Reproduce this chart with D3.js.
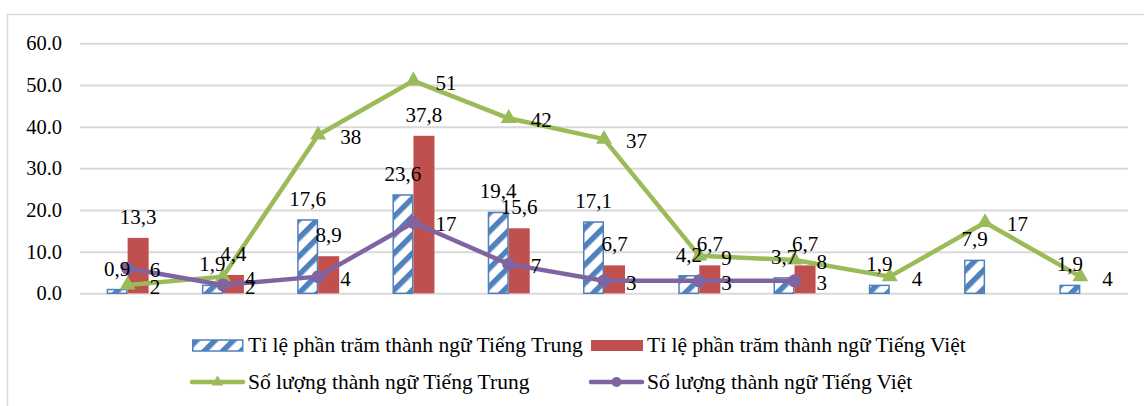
<!DOCTYPE html>
<html><head><meta charset="utf-8">
<script src="https://cdn.jsdelivr.net/npm/d3@7/dist/d3.min.js"></script>
<style>body{margin:0;background:#fff}svg{display:block}</style>
</head><body><svg id="c" width="1144" height="406"></svg>
<script>
const categories = ["1","2","3","4","5","6","7","8","9","10","11"];
const pctTrung = [0.9, 1.9, 17.6, 23.6, 19.4, 17.1, 4.2, 3.7, 1.9, 7.9, 1.9];
const pctViet  = [13.3, 4.4, 8.9, 37.8, 15.6, 6.7, 6.7, 6.7, null, null, null];
const cntTrung = [2, 4, 38, 51, 42, 37, 9, 8, 4, 17, 4];
const cntViet  = [6, 2, 4, 17, 7, 3, 3, 3, null, null, null];
const yTicks = [0, 10, 20, 30, 40, 50, 60];
const seriesNames = ["Tỉ lệ phần trăm thành ngữ Tiếng Trung","Tỉ lệ phần trăm thành ngữ Tiếng Việt","Số lượng thành ngữ Tiếng Trung","Số lượng thành ngữ Tiếng Việt"];

const FONT = "Liberation Serif";
const BLUE="#4F81BD", RED="#C0504D", GREEN="#9BBB59", PURPLE="#8064A2", GRID="#D9D9D9";
const svg = d3.select("#c");
const defs = svg.append("defs");
const pat = defs.append("pattern").attr("id","hatch").attr("patternUnits","userSpaceOnUse")
  .attr("width",13).attr("height",13).attr("patternTransform","rotate(45)");
pat.append("rect").attr("width",13).attr("height",13).attr("fill","#fff");
pat.append("rect").attr("width",5.5).attr("height",13).attr("fill",BLUE);

function txt(g, x, y, s, anchor, size){
  size = size || 21;
  return g.append("text").attr("x",x).attr("y",y).attr("font-family",FONT).attr("font-size",size)
    .style("font-family","'Liberation Serif'").style("font-size",size+"px").attr("fill","#000")
    .attr("text-anchor",anchor||"start").attr("dominant-baseline","central").text(s);
}

svg.append("rect").attr("x",7.5).attr("y",14.5).attr("width",1300).attr("height",600)
  .attr("fill","none").attr("stroke",GRID).attr("stroke-width",1.5);

const x = d3.scaleBand().domain(categories).range([80,1128]);
const y = d3.scaleLinear().domain([0,60]).range([293.3,43.3]);
const x1 = d3.scaleBand().domain(["t","v"]).range([-21,21]);

const yAxis = svg.append("g").attr("transform","translate(80,0)")
  .call(d3.axisLeft(y).tickValues(yTicks).tickFormat(d3.format(".1f")).tickSize(-1048).tickPadding(18));
yAxis.select(".domain").remove();
yAxis.selectAll(".tick line").attr("stroke",GRID).attr("stroke-width",2);
yAxis.selectAll(".tick text").attr("font-family",FONT).attr("font-size",20.5)
  .style("font-family","'Liberation Serif'").style("font-size","20.5px").attr("fill","#000");

const cx = i => x(categories[i]) + x.bandwidth()/2;
const fmt = v => String(v).replace(".", ",");

// bars
const gBars = svg.append("g");
pctTrung.forEach((v,i)=>{
  if(v==null) return;
  gBars.append("rect").attr("x",cx(i)+x1("t")+0.75).attr("y",y(v)).attr("width",x1.bandwidth()-1.5)
    .attr("height",y(0)-y(v)).attr("fill","url(#hatch)").attr("stroke",BLUE).attr("stroke-width",1.5);
});
pctViet.forEach((v,i)=>{
  if(v==null) return;
  gBars.append("rect").attr("x",cx(i)+x1("v")).attr("y",y(v)).attr("width",x1.bandwidth())
    .attr("height",y(0)-y(v)).attr("fill",RED);
});

// lines
function drawLine(data,color,marker){
  const pts = data.map((v,i)=>v==null?null:[cx(i),y(v)]).filter(p=>p);
  svg.append("path").attr("d",d3.line()(pts)).attr("fill","none").attr("stroke",color)
    .attr("stroke-width",4.5).attr("stroke-linejoin","round");
  pts.forEach(p=>{
    if(marker==="tri"){
      svg.append("path").attr("d",d3.symbol(d3.symbolTriangle,110)()).attr("transform",`translate(${p[0]},${p[1]})`).attr("fill",color);
    } else {
      svg.append("circle").attr("cx",p[0]).attr("cy",p[1]).attr("r",6.5).attr("fill",color);
    }
  });
}
drawLine(cntTrung,GREEN,"tri");
drawLine(cntViet,PURPLE,"circle");

// labels
const gL = svg.append("g");
pctTrung.forEach((v,i)=>{ if(v==null) return;
  txt(gL, cx(i)+x1("t")+x1.bandwidth()/2, y(v)-21, fmt(v), "middle");});
pctViet.forEach((v,i)=>{ if(v==null) return;
  txt(gL, cx(i)+x1("v")+x1.bandwidth()/2, y(v)-21, fmt(v), "middle");});
cntTrung.forEach((v,i)=>{ if(v==null) return;
  txt(gL, cx(i)+22, y(v)+2, fmt(v));});
cntViet.forEach((v,i)=>{ if(v==null) return;
  txt(gL, cx(i)+22, y(v)+2, fmt(v));});

// legend
const leg = svg.append("g");
const lx = [192, 591], ly = [345, 382];
leg.append("rect").attr("x",lx[0]+0.75).attr("y",ly[0]-5).attr("width",50).attr("height",11)
  .attr("fill","url(#hatch)").attr("stroke",BLUE).attr("stroke-width",1.5);
leg.append("rect").attr("x",lx[1]).attr("y",ly[0]-5).attr("width",52).attr("height",11).attr("fill",RED);
leg.append("line").attr("x1",lx[0]).attr("x2",lx[0]+51).attr("y1",ly[1]).attr("y2",ly[1]).attr("stroke",GREEN).attr("stroke-width",4.5).attr("stroke-linecap","round");
leg.append("path").attr("d",d3.symbol(d3.symbolTriangle,60)()).attr("transform",`translate(${lx[0]+25.5},${ly[1]})`).attr("fill",GREEN);
leg.append("line").attr("x1",lx[1]).attr("x2",lx[1]+51).attr("y1",ly[1]).attr("y2",ly[1]).attr("stroke",PURPLE).attr("stroke-width",4.5).attr("stroke-linecap","round");
leg.append("circle").attr("cx",lx[1]+25.5).attr("cy",ly[1]).attr("r",5).attr("fill",PURPLE);
[[0,0],[1,0],[0,1],[1,1]].forEach(([c,r],k)=>{
  txt(leg, lx[c]+56, ly[r], seriesNames[k], "start", 21.5);
});
</script></body></html>
